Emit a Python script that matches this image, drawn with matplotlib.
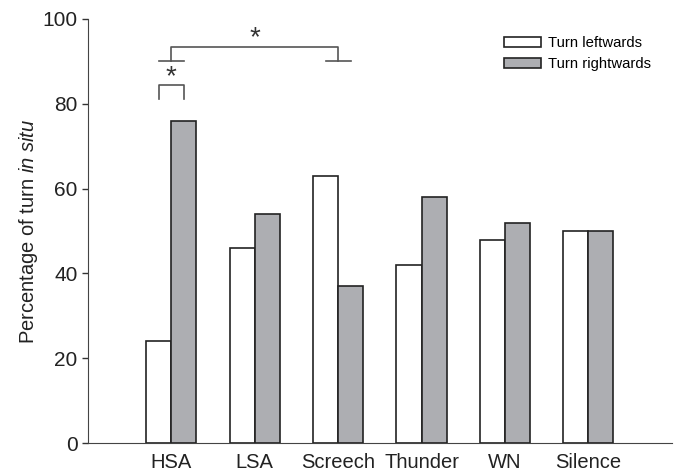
import matplotlib.pyplot as plt
import numpy as np

plt.rcParams['font.family'] = ['Liberation Sans', 'DejaVu Sans']
plt.rcParams['mathtext.fontset'] = 'custom'
plt.rcParams['mathtext.rm'] = 'Liberation Sans'
plt.rcParams['mathtext.it'] = 'Liberation Sans:italic'

# Daten
stimuli = ['HSA', 'LSA', 'Screech', 'Thunder', 'WN', 'Silence']
links = [24, 46, 63, 42, 48, 50]
rechts = [76, 54, 37, 58, 52, 50]

x = np.arange(1, len(stimuli) + 1)
w = 0.3

fig = plt.figure(figsize=(6.8, 4.74), dpi=100)
ax = fig.add_axes([0.129, 0.065, 0.859, 0.895])

ax.bar(x - w / 2, links, w, color='white', edgecolor='#222222', linewidth=1.2, label='Turn leftwards')
ax.bar(x + w / 2, rechts, w, color='#adaeb2', edgecolor='#222222', linewidth=1.2, label='Turn rightwards')

ax.set_xlim(0, 7)
ax.set_ylim(0, 100)
ax.set_xticks(x)
ax.set_xticklabels(stimuli, fontsize=14.5, color='#222222')
ax.tick_params(axis='x', length=0, pad=7)
ax.set_yticks([0, 20, 40, 60, 80, 100])
ax.tick_params(axis='y', labelsize=15, length=4.3, width=1, color='#333333', labelcolor='#222222', pad=3)
ax.set_ylabel('Percentage of turn $\\it{in\\ situ}$', fontsize=14.5, color='#222222', labelpad=2)
for s in ['top', 'right']:
    ax.spines[s].set_visible(False)
for s in ['left', 'bottom']:
    ax.spines[s].set_color('#444444')

lc = '#555555'
# kleine Klammer HSA links vs rechts
ax.plot([x[0] - w / 2, x[0] - w / 2, x[0] + w / 2, x[0] + w / 2], [81.1, 84.4, 84.4, 81.1], color=lc, lw=1.2)
ax.text(x[0], 84.7, '*', ha='center', va='baseline', fontsize=20, color='#333333')
# grosse Klammer HSA vs Screech
ax.plot([x[0], x[0], x[2], x[2]], [90.2, 93.5, 93.5, 90.2], color=lc, lw=1.2)
ax.plot([x[0] - w / 2, x[0] + w / 2], [90.2, 90.2], color=lc, lw=1.2)
ax.plot([x[2] - w / 2, x[2] + w / 2], [90.2, 90.2], color=lc, lw=1.2)
ax.text((x[0] + x[2]) / 2, 93.8, '*', ha='center', va='baseline', fontsize=20, color='#333333')

ax.legend(loc='upper left', bbox_to_anchor=(0.712, 0.96), frameon=False, fontsize=10.7,
          borderpad=0, borderaxespad=0, handlelength=2.5, handleheight=0.62,
          handletextpad=0.48, labelspacing=0.5)

plt.savefig('out.png', dpi=100)
